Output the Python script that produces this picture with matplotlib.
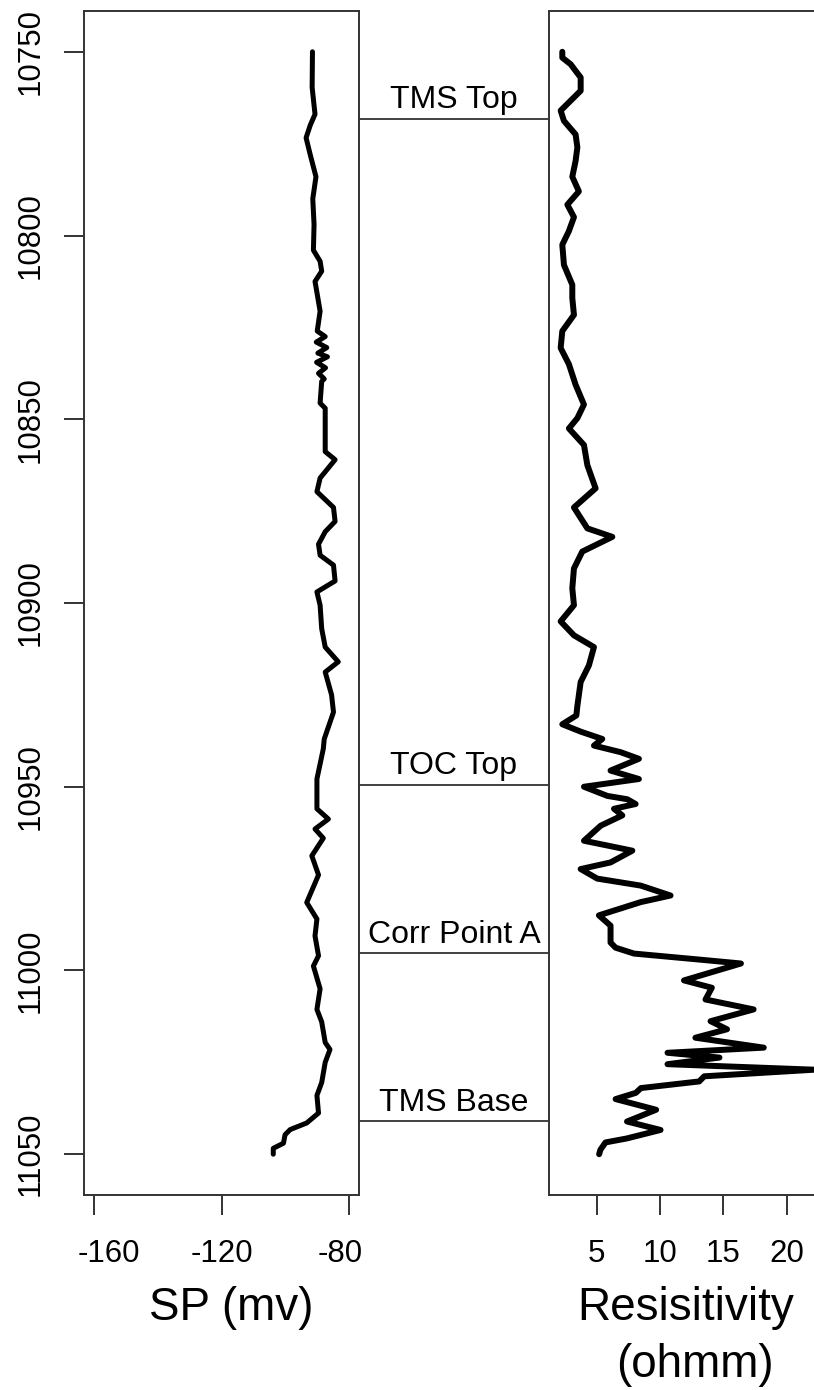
import numpy as np
import matplotlib
matplotlib.use('Agg')
import matplotlib.pyplot as plt
import matplotlib.transforms as mtransforms

plt.rcParams['font.family'] = ['Liberation Sans', 'DejaVu Sans']
plt.rcParams['axes.unicode_minus'] = False

# SP log (depth in ft, SP in mv)
sp_depth = [10750, 10759.7, 10767, 10770, 10773.4, 10778, 10784, 10790, 10797, 10804,
            10807, 10809.7, 10812.5, 10816, 10820.6, 10826, 10827.5, 10829, 10830.5, 10832,
            10833, 10834.5, 10836, 10837.5, 10839, 10839.7, 10845.6, 10847, 10858.8, 10861,
            10866, 10869.7, 10874, 10877.8, 10880.6, 10884, 10887, 10889.7, 10894, 10897,
            10900.6, 10907, 10912, 10916, 10918.8, 10925, 10929.7, 10937, 10939.7, 10947.9,
            10956, 10958.8, 10961.5, 10964, 10968.8, 10974, 10981.5, 10986, 10990.6, 10996,
            10998.8, 11005, 11010.6, 11014, 11019.6, 11021.5, 11025, 11030.5, 11034, 11038.8,
            11041.5, 11043.3, 11044.7, 11047, 11048.4, 11050]
sp_val = [-91.5, -91.6, -90.7, -92.2, -93.5, -92.2, -90.4, -91.4, -91.0, -91.2,
          -89.1, -88.6, -90.7, -90.0, -89.1, -90.0, -87.5, -90.3, -87.0, -89.8,
          -86.8, -90.2, -87.4, -89.6, -87.8, -88.6, -89.1, -87.5, -87.5, -84.4,
          -89.1, -90.1, -84.9, -84.4, -87.5, -89.6, -89.1, -84.9, -84.4, -90.1,
          -89.1, -88.6, -87.5, -83.4, -87.5, -85.5, -84.9, -87.8, -88.1, -90.1,
          -90.1, -86.5, -90.7, -88.1, -91.7, -89.6, -93.3, -90.1, -90.7, -89.6,
          -91.2, -89.1, -90.1, -88.6, -87.5, -86.0, -87.5, -88.6, -90.1, -89.6,
          -93.3, -98.5, -100.1, -100.6, -103.8, -103.8]

# resistivity log (depth in ft, ohmm)
res_depth = [10750, 10751.6, 10753.4, 10757, 10760.6, 10766, 10768.8, 10772.5, 10776, 10779.7,
             10784, 10788, 10791.6, 10795, 10798.8, 10802.5, 10808, 10813.4, 10817, 10821.6,
             10826, 10830.6, 10835, 10840.6, 10846, 10849.7, 10852.5, 10857, 10862.5, 10868.8,
             10874, 10879.7, 10882, 10886, 10890.6, 10896, 10900.6, 10905, 10908.8, 10912,
             10917, 10921.5, 10928, 10930.6, 10933, 10935, 10937, 10938.8, 10940.6, 10942.4,
             10945.6, 10947.9, 10950, 10952.5, 10953.4, 10954.7, 10956, 10957.8, 10960.6, 10964.7,
             10966, 10967.4, 10970.6, 10972.4, 10975, 10976.9, 10979.6, 10981.4, 10985, 10987.8,
             10992.4, 10993.8, 10995.4, 10997, 10998.1, 11002.7, 11004.7, 11007.9, 11010.6, 11013.8,
             11016, 11018.3, 11021, 11022.4, 11023.7, 11025.5, 11027, 11028.8, 11030.2, 11032,
             11033.3, 11035, 11037.9, 11041.1, 11043.4, 11045.7, 11046.8, 11048.8, 11050]
res_val = [2.29, 2.29, 2.95, 3.74, 3.74, 2.16, 2.42, 3.34, 3.48, 3.34,
           3.08, 3.6, 2.69, 3.21, 2.81, 2.29, 2.42, 3.08, 3.08, 3.21,
           2.29, 2.16, 2.81, 3.34, 4.0, 3.48, 2.81, 4.0, 4.27, 4.92,
           3.21, 4.27, 6.24, 3.87, 3.21, 3.08, 3.21, 2.16, 3.21, 4.79,
           4.39, 3.74, 3.48, 3.4, 2.29, 3.74, 5.45, 4.79, 6.9, 8.34,
           6.1, 8.34, 4.0, 5.85, 7.42, 8.08, 6.37, 7.03, 5.32, 4.0,
           5.85, 7.82, 6.1, 3.74, 5.05, 8.48, 10.84, 8.48, 5.18, 6.1,
           6.1, 6.5, 7.95, 13.0, 16.4, 11.9, 14.1, 13.6, 17.4, 14.0,
           15.3, 12.8, 18.2, 10.6, 14.7, 10.6, 22.2, 13.5, 13.1, 8.5,
           8.1, 6.5, 9.7, 7.4, 10.05, 7.4, 5.7, 5.3, 5.2]

# formation tops
top_names = ['TMS Top', 'TOC Top', 'Corr Point A', 'TMS Base']
top_depths = [10768.2, 10949.5, 10995.3, 11041.0]

sp_ticks = [-160, -120, -80]
res_ticks = [5, 10, 15, 20]
depth_ticks = [10750, 10800, 10850, 10900, 10950, 11000, 11050]

W, H = 814, 1390
fig = plt.figure(figsize=(W / 100, H / 100), dpi=100)

spine_col = '#333333'
ax1 = fig.add_axes([84 / W, 1 - 1195 / H, 275.3 / W, 1184 / H])
ax2 = fig.add_axes([548.5 / W, 1 - 1195 / H, 273.5 / W, 1184 / H])

ax1.plot(sp_val, sp_depth, color='black', lw=3.6, solid_capstyle='round', solid_joinstyle='round')
ax2.plot(res_val, res_depth, color='black', lw=4.3, solid_capstyle='round', solid_joinstyle='round')

for ax in (ax1, ax2):
    ax.set_ylim(11061.1, 10738.9)
    for s in ax.spines.values():
        s.set_color(spine_col)
        s.set_linewidth(1.4)
    ax.tick_params(axis='x', length=14.4, width=1.4, color=spine_col, pad=17, labelsize=22.5)

ax1.set_xlim(-163.2, -76.8)
ax1.set_xticks(sp_ticks)
ax1.set_yticks(depth_ticks)
ax1.tick_params(axis='y', length=14.4, width=1.4, color=spine_col, pad=13, labelsize=22.5)
for lab in ax1.get_yticklabels():
    lab.set_rotation(90)
    lab.set_va('center')

# outer SP labels sit pulled in toward the middle, as in the original
for lab, dx in zip(ax1.get_xticklabels(), [15, 0, -9]):
    lab.set_transform(lab.get_transform() + mtransforms.ScaledTranslation(dx / 100, 0, fig.dpi_scale_trans))

ax2.set_xlim(1.2, 22.8)
ax2.set_xticks(res_ticks)
ax2.set_yticks([])

# connecting lines and labels between the two tracks
x_right = (ax2.get_position().x0 - ax1.get_position().x0) / ax1.get_position().width
trans = mtransforms.blended_transform_factory(ax1.transAxes, ax1.transData)
for name, d in zip(top_names, top_depths):
    ax1.plot([1, x_right], [d, d], transform=trans, color=spine_col, lw=1.3, clip_on=False)
    ax1.annotate(name, xy=((1 + x_right) / 2, d), xycoords=trans,
                 xytext=(0, 7.5), textcoords='offset points',
                 ha='center', va='baseline', fontsize=23, annotation_clip=False)

fig.text(231 / W, 1 - 1320 / H, 'SP (mv)', ha='center', va='baseline', fontsize=33)
fig.text(685.5 / W, 1 - 1320 / H, 'Resisitivity', ha='center', va='baseline', fontsize=33)
fig.text(695 / W, 1 - 1377 / H, '(ohmm)', ha='center', va='baseline', fontsize=33)

fig.savefig('out.png', dpi=100)
